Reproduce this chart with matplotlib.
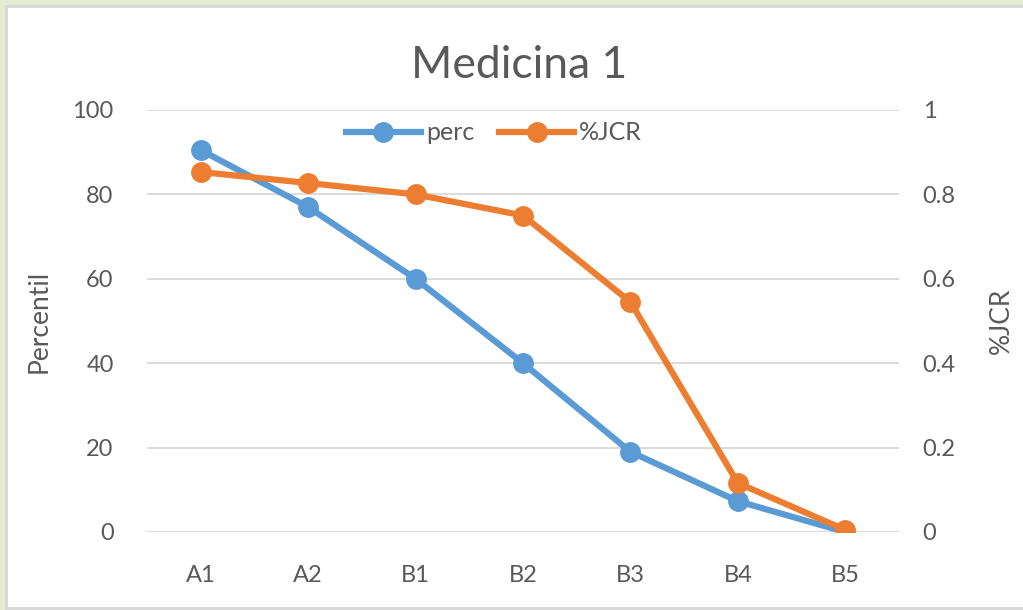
import matplotlib
matplotlib.use('Agg')
import matplotlib.pyplot as plt
from matplotlib.patches import Rectangle

categories = ['A1', 'A2', 'B1', 'B2', 'B3', 'B4', 'B5']
perc = [90.5, 77, 60, 40, 19, 7.3, 0]
jcr = [0.853, 0.827, 0.80, 0.75, 0.545, 0.116, 0.005]

W, H = 1023, 610
plt.rcParams['font.family'] = ['Lato', 'DejaVu Sans']
txt = '#595959'
blue = '#5b9bd5'
orange = '#ed7d31'

fig = plt.figure(figsize=(W / 100, H / 100), dpi=100, facecolor='#e6ebd3')
# white chart area with grey frame
fig.patches.append(Rectangle((5 / W, 0), 1, 1 - 5 / H, transform=fig.transFigure,
                             facecolor='#d9d9d9', edgecolor='none', zorder=-10))
fig.patches.append(Rectangle((8 / W, 3 / H), 1, 1 - 11 / H, transform=fig.transFigure,
                             facecolor='white', edgecolor='none', zorder=-9))

ax = fig.add_axes([147 / W, 1 - 532 / H, (899 - 147) / W, (532 - 110) / H])
ax.set_facecolor('none')
x = list(range(len(categories)))

ax.set_xlim(-0.5, len(categories) - 0.5)
ax.set_ylim(0, 100)
ax.set_yticks(range(0, 101, 20))
ax.grid(axis='y', color='#d9d9d9', linewidth=1.3)
ax.set_axisbelow(True)
for s in ax.spines.values():
    s.set_visible(False)
ax.set_xticks(x)
ax.set_xticklabels(categories)
ax.tick_params(length=0, labelsize=17, colors=txt)
ax.tick_params(axis='x', pad=24)
ax.tick_params(axis='y', pad=24)
ax.set_ylabel('Percentil', fontsize=19, color=txt, labelpad=15)

ax2 = ax.twinx()
ax2.set_ylim(0, 1)
ax2.set_yticks([0, 0.2, 0.4, 0.6, 0.8, 1])
ax2.set_yticklabels(['0', '0.2', '0.4', '0.6', '0.8', '1'])
for s in ax2.spines.values():
    s.set_visible(False)
ax2.tick_params(length=0, labelsize=17, colors=txt, pad=17)
ax2.set_ylabel('%JCR', fontsize=19, color=txt, labelpad=24)

l1, = ax.plot(x, perc, color=blue, lw=4.5, marker='o', ms=14, label='perc', zorder=3)
l2, = ax2.plot(x, jcr, color=orange, lw=4.5, marker='o', ms=14, label='%JCR', zorder=3)

fig.legend(handles=[l1, l2], loc='center', bbox_to_anchor=(494 / W, 1 - 133 / H), ncol=2,
           frameon=False, fontsize=18, labelcolor=txt, handlelength=3.0,
           columnspacing=1.0, handletextpad=0.2, borderpad=0)

fig.text(519 / W, 1 - 65 / H, 'Medicina 1', ha='center', va='center', fontsize=32,
         color=txt)

plt.savefig('out.png', dpi=100, facecolor=fig.get_facecolor())
